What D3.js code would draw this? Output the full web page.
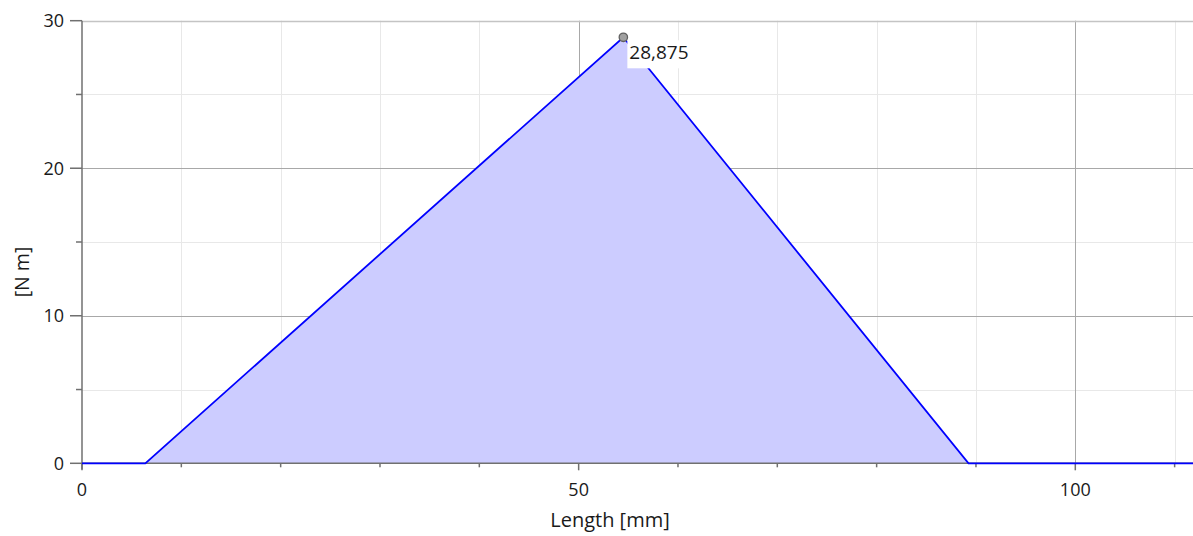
<!DOCTYPE html>
<html><head><meta charset="utf-8">
<script src="https://cdn.jsdelivr.net/npm/d3@7"></script>
<style>body{margin:0;background:#fff}svg{display:block}text{font-family:"Open Sans",sans-serif;fill:#1a1a1a}</style>
</head><body><svg id="c" width="1193" height="536"></svg>
<script>
const xs = [0, 6.375, 54.5, 89.25, 112];
const ys = [0, 0, 28.875, 0, 0];
const xMajorTicks = [0, 50, 100];
const xMinorTicks = [10, 20, 30, 40, 60, 70, 80, 90, 110];
const yMajorTicks = [0, 10, 20, 30];
const yMinorTicks = [5, 15, 25];
const peakIndex = 2;
const peakLabel = "28,875";
const xTitle = "Length [mm]";
const yTitle = "[N m]";

const svg = d3.select("#c");
const x = d3.scaleLinear().domain([0, 112]).range([82, 82 + 112 * 9.933]);
const y = d3.scaleLinear().domain([0, 30]).range([463.3, 20.7]);
const x0 = 82, y0 = y(0);

const g = svg.append("g");
// minor grid
g.selectAll(".vmin").data(xMinorTicks).join("line")
  .attr("x1", d => Math.round(x(d)) + 0.5).attr("x2", d => Math.round(x(d)) + 0.5)
  .attr("y1", y(30)).attr("y2", y0).attr("stroke", "#e8e8e8");
g.selectAll(".hmin").data(yMinorTicks).join("line")
  .attr("y1", d => Math.round(y(d)) + 0.5).attr("y2", d => Math.round(y(d)) + 0.5)
  .attr("x1", x0).attr("x2", 1193).attr("stroke", "#e8e8e8");
// major grid
g.selectAll(".vmaj").data(xMajorTicks.filter(d => d > 0)).join("line")
  .attr("x1", d => Math.round(x(d)) + 0.5).attr("x2", d => Math.round(x(d)) + 0.5)
  .attr("y1", y(30)).attr("y2", y0).attr("stroke", "#a8a8a8");
g.selectAll(".hmaj").data(yMajorTicks.filter(d => d > 0)).join("line")
  .attr("y1", d => Math.round(y(d)) + 0.5).attr("y2", d => Math.round(y(d)) + 0.5)
  .attr("x1", x0).attr("x2", 1193).attr("stroke", d => d === 30 ? "#c4c4c4" : "#a8a8a8")
  .attr("stroke-width", d => d === 30 ? 1.5 : 1);

// area + line
const pts = xs.map((v, i) => [v, ys[i]]);
svg.append("path").datum(pts)
  .attr("d", d3.area().x(d => x(d[0])).y0(y0).y1(d => y(d[1])))
  .attr("fill", "#ccccff");

// axes lines
svg.append("line").attr("x1", x0).attr("x2", 1193).attr("y1", y0).attr("y2", y0).attr("stroke", "#707070").attr("stroke-width", 1.5);
svg.append("line").attr("x1", x0).attr("x2", x0).attr("y1", y(30)).attr("y2", y0 + 6).attr("stroke", "#707070").attr("stroke-width", 1.5);

// ticks
svg.selectAll(".xt").data(xMajorTicks).join("line")
  .attr("x1", d => x(d)).attr("x2", d => x(d)).attr("y1", y0).attr("y2", y0 + 7)
  .attr("stroke", "#707070").attr("stroke-width", 1.5);
svg.selectAll(".xtm").data(xMinorTicks).join("line")
  .attr("x1", d => x(d)).attr("x2", d => x(d)).attr("y1", y0).attr("y2", y0 + 4)
  .attr("stroke", "#707070").attr("stroke-width", 1.5);
svg.selectAll(".yt").data(yMajorTicks).join("line")
  .attr("y1", d => y(d)).attr("y2", d => y(d)).attr("x1", x0 - 12).attr("x2", x0)
  .attr("stroke", "#707070").attr("stroke-width", 1.5);
svg.selectAll(".ytm").data(yMinorTicks).join("line")
  .attr("y1", d => y(d)).attr("y2", d => y(d)).attr("x1", x0 - 6).attr("x2", x0)
  .attr("stroke", "#707070").attr("stroke-width", 1.5);

// line
svg.append("path").datum(pts)
  .attr("d", d3.line().x(d => x(d[0])).y(d => y(d[1])))
  .attr("fill", "none").attr("stroke", "#0000ff").attr("stroke-width", 1.8);

// tick labels
svg.selectAll(".xl").data(xMajorTicks).join("text")
  .attr("x", d => x(d)).attr("y", 496).attr("text-anchor", "middle")
  .attr("font-size", 18).text(d => d);
svg.selectAll(".yl").data(yMajorTicks).join("text")
  .attr("x", 64).attr("y", d => y(d) + 6.4).attr("text-anchor", "end")
  .attr("font-size", 18).text(d => d);

// titles
svg.append("text").attr("x", 610).attr("y", 527).attr("text-anchor", "middle")
  .attr("font-size", 20).text(xTitle);
svg.append("text").attr("transform", "translate(29,272) rotate(-90)").attr("text-anchor", "middle")
  .attr("font-size", 19.5).text(yTitle);

// peak marker + label
const px = x(xs[peakIndex]), py = y(ys[peakIndex]);
svg.append("rect").attr("x", px + 4).attr("y", py + 3).attr("width", 69).attr("height", 28).attr("fill", "#fff");
svg.append("text").attr("x", px + 6).attr("y", py + 22).attr("font-size", 19).text(peakLabel);
svg.append("circle").attr("cx", px).attr("cy", py).attr("r", 4.2)
  .attr("fill", "#a0a0a0").attr("stroke", "#606060").attr("stroke-width", 1.3);
</script></body></html>
